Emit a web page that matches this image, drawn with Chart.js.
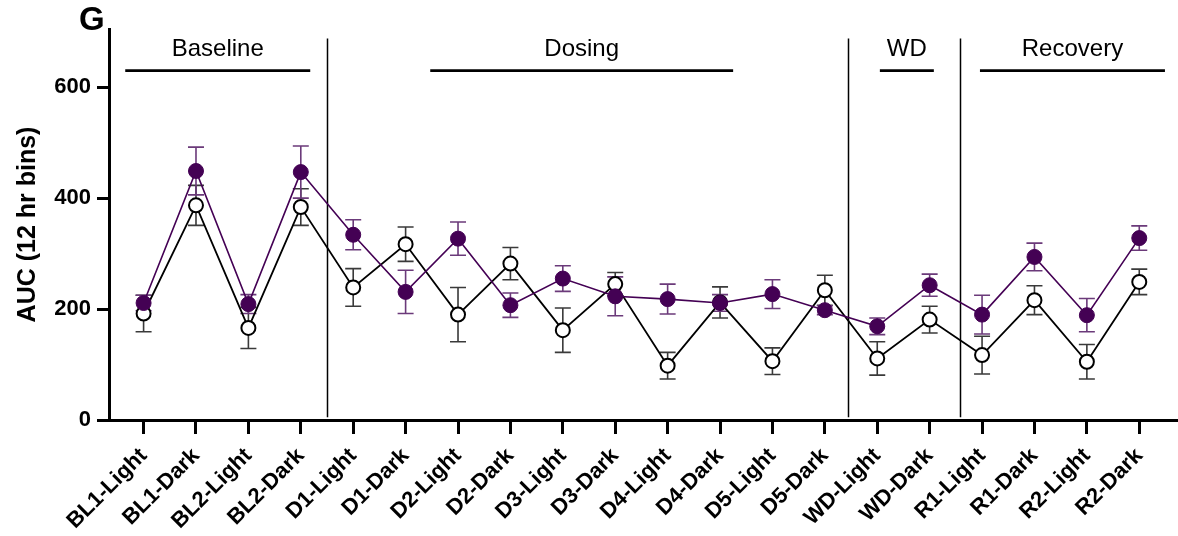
<!DOCTYPE html>
<html>
<head>
<meta charset="utf-8">
<script src="https://cdn.jsdelivr.net/npm/chart.js@4.4.1/dist/chart.umd.min.js"></script>
<style>
    body { margin: 0; background: #fff; }
</style>
</head>
<body>
<canvas id="myChart" width="1178" height="536"></canvas>
<script>
// categorias (eixo x)
var categories = ['BL1-Light', 'BL1-Dark', 'BL2-Light', 'BL2-Dark', 'D1-Light', 'D1-Dark',
    'D2-Light', 'D2-Dark', 'D3-Light', 'D3-Dark', 'D4-Light', 'D4-Dark', 'D5-Light', 'D5-Dark',
    'WD-Light', 'WD-Dark', 'R1-Light', 'R1-Dark', 'R2-Light', 'R2-Dark'];

// série roxa (círculos cheios)
var treatedMean = [211, 449, 209, 447, 334, 231, 327, 207, 255, 223, 218, 211, 227, 198, 169, 243, 190, 294, 189, 328];
var treatedSem = [14, 43, 17, 47, 27, 39, 30, 22, 23, 35, 27, 15, 26, 8, 15, 20, 35, 25, 30, 22];

// série preta (círculos abertos)
var controlMean = [192, 387, 166, 384, 239, 317, 190, 282, 162, 245, 98, 212, 106, 234, 111, 181, 117, 216, 105, 249];
var controlSem = [33, 36, 37, 33, 34, 31, 49, 29, 40, 21, 24, 28, 24, 27, 30, 24, 34, 26, 31, 23];

var yTicks = [0, 200, 400, 600];

// fases do experimento
var phaseNames = ['Baseline', 'Dosing', 'WD', 'Recovery'];
var phaseFrom = [-0.35, 5.47, 14.05, 15.96];
var phaseTo = [3.18, 11.25, 15.08, 19.49];
var phaseBreaks = [3.5, 13.45, 15.58];

var purple = '#440154';
var purpleBar = '#6b3a7a';
var blackBar = '#3a3a3a';
var fontFamily = '"Liberation Sans", Arial, Helvetica, sans-serif';

function toPoints(values) {
    return values.map(function (v, i) { return { x: i, y: v }; });
}

function drawErrorBars(ctx, xs, ys, means, sems, color) {
    ctx.strokeStyle = color;
    ctx.lineWidth = 1.6;
    for (var i = 0; i < means.length; i++) {
        var px = xs.getPixelForValue(i);
        var top = ys.getPixelForValue(means[i] + sems[i]);
        var bot = ys.getPixelForValue(means[i] - sems[i]);
        ctx.beginPath();
        ctx.moveTo(px, top); ctx.lineTo(px, bot);
        ctx.moveTo(px - 8, top); ctx.lineTo(px + 8, top);
        ctx.moveTo(px - 8, bot); ctx.lineTo(px + 8, bot);
        ctx.stroke();
    }
}

var overlayPlugin = {
    id: 'overlay',
    beforeDatasetsDraw: function (chart) {
        var ctx = chart.ctx;
        var xs = chart.scales.x, ys = chart.scales.y;
        ctx.save();
        // linhas verticais entre fases
        ctx.strokeStyle = '#000';
        ctx.lineWidth = 1.5;
        phaseBreaks.forEach(function (b) {
            var px = Math.round(xs.getPixelForValue(b)) + 0.5;
            ctx.beginPath();
            ctx.moveTo(px, ys.getPixelForValue(688));
            ctx.lineTo(px, ys.getPixelForValue(5));
            ctx.stroke();
        });
        // barras e nomes das fases
        ctx.font = '24px ' + fontFamily;
        ctx.fillStyle = '#000';
        ctx.textAlign = 'center';
        ctx.textBaseline = 'alphabetic';
        for (var i = 0; i < phaseNames.length; i++) {
            var x1 = xs.getPixelForValue(phaseFrom[i]);
            var x2 = xs.getPixelForValue(phaseTo[i]);
            var ly = ys.getPixelForValue(630);
            ctx.lineWidth = 2.6;
            ctx.beginPath();
            ctx.moveTo(x1, ly); ctx.lineTo(x2, ly);
            ctx.stroke();
            ctx.fillText(phaseNames[i], (x1 + x2) / 2, ys.getPixelForValue(656));
        }
        // barras de erro
        drawErrorBars(ctx, xs, ys, controlMean, controlSem, blackBar);
        drawErrorBars(ctx, xs, ys, treatedMean, treatedSem, purpleBar);
        ctx.restore();
    },
    afterDraw: function (chart) {
        var ctx = chart.ctx;
        ctx.save();
        ctx.font = 'bold 33px ' + fontFamily;
        ctx.fillStyle = '#000';
        ctx.textAlign = 'left';
        ctx.textBaseline = 'alphabetic';
        ctx.fillText('G', 79, 30);
        ctx.restore();
    }
};

var ctx = document.getElementById('myChart').getContext('2d');
var myChart = new Chart(ctx, {
    type: 'line',
    data: {
        datasets: [{
            label: 'treated',
            data: toPoints(treatedMean),
            borderColor: purple,
            borderWidth: 1.6,
            backgroundColor: purple,
            pointBackgroundColor: purple,
            pointBorderColor: purple,
            pointRadius: 7.5,
            pointBorderWidth: 1,
            tension: 0,
            fill: false,
            order: 0
        }, {
            label: 'control',
            data: toPoints(controlMean),
            borderColor: '#000',
            borderWidth: 1.8,
            backgroundColor: '#fff',
            pointBackgroundColor: '#fff',
            pointBorderColor: '#000',
            pointRadius: 7,
            pointBorderWidth: 2,
            tension: 0,
            fill: false,
            order: 1
        }]
    },
    options: {
        responsive: false,
        animation: false,
        layout: { autoPadding: false, padding: { top: 29, right: 1, left: 0, bottom: 0 } },
        plugins: {
            legend: { display: false },
            tooltip: { enabled: false }
        },
        scales: {
            x: {
                type: 'linear',
                min: -0.66,
                max: 19.72,
                afterBuildTicks: function (scale) {
                    scale.ticks = categories.map(function (c, i) { return { value: i }; });
                },
                afterFit: function (scale) {
                    scale.height = 116;
                    scale.paddingRight = 0;
                },
                border: { color: '#000', width: 3 },
                grid: { drawOnChartArea: false, tickLength: 14, tickWidth: 3, tickColor: '#000' },
                ticks: {
                    autoSkip: false,
                    minRotation: 45,
                    maxRotation: 45,
                    padding: 9,
                    color: '#000',
                    font: { family: fontFamily, size: 22, weight: 'bold' },
                    callback: function (v) { return categories[v]; }
                }
            },
            y: {
                min: 0,
                max: 705,
                afterBuildTicks: function (scale) {
                    scale.ticks = yTicks.map(function (v) { return { value: v }; });
                },
                afterFit: function (scale) { scale.width = 109; },
                border: { color: '#000', width: 3 },
                grid: { drawOnChartArea: false, tickLength: 12, tickWidth: 3, tickColor: '#000' },
                ticks: {
                    padding: 6,
                    color: '#000',
                    font: { family: fontFamily, size: 22, weight: 'bold' }
                },
                title: {
                    display: true,
                    text: 'AUC (12 hr bins)',
                    color: '#000',
                    padding: { top: 13, bottom: 0 },
                    font: { family: fontFamily, size: 25, weight: 'bold' }
                }
            }
        }
    },
    plugins: [overlayPlugin]
});
</script>
</body>
</html>
